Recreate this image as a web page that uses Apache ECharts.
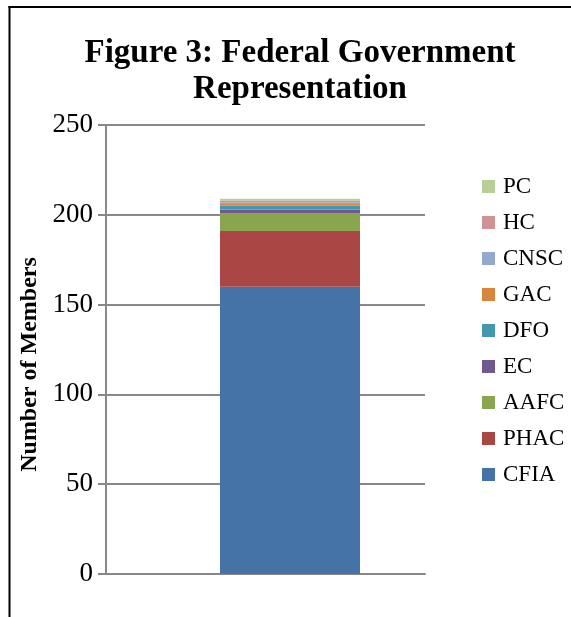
<!DOCTYPE html>
<html>
<head>
<meta charset="utf-8">
<script src="https://cdn.jsdelivr.net/npm/echarts@6/dist/echarts.min.js"></script>
<style>
  html, body { margin: 0; padding: 0; background: #fff; }
  #chart { width: 571px; height: 617px; }
</style>
</head>
<body>
<div id="chart"></div>
<script>
// agencies, bottom of the stack first
const agencies = ['CFIA', 'PHAC', 'AAFC', 'EC', 'DFO', 'GAC', 'CNSC', 'HC', 'PC']
const members = [160, 31, 10, 2, 2, 1, 1, 1, 1]
const colors = ['#4572a7', '#aa4643', '#89a54e', '#71588f', '#4198af', '#db843d', '#93a9cf', '#d19392', '#b9cd96']
const yTicks = [0, 50, 100, 150, 200, 250]

const chart = echarts.init(document.getElementById('chart'))
const serif = '"Liberation Serif", "DejaVu Serif", serif'

// bars sit in a second grid so they land right of the plot centre, as in the original
const series = agencies.map((name, i) => ({
  name,
  type: 'bar',
  stack: 'total',
  xAxisIndex: 1,
  yAxisIndex: 1,
  data: [members[i]],
  barWidth: 140,
  itemStyle: { color: colors[i] }
}))

chart.setOption({
  animation: false,
  title: {
    text: 'Figure 3: Federal Government\nRepresentation',
    left: 295,
    textAlign: 'center',
    top: 30,
    textStyle: { fontFamily: serif, fontWeight: 'bold', fontSize: 33, lineHeight: 36, color: '#000' }
  },
  legend: {
    orient: 'vertical',
    left: 477,
    top: 170,
    icon: 'rect',
    itemWidth: 13,
    itemHeight: 13,
    itemGap: 13,
    data: agencies.slice().reverse(),
    textStyle: { fontFamily: serif, fontSize: 23, color: '#000', padding: [0, 0, 0, 3] }
  },
  grid: [
    { left: 106, right: 146, top: 125, bottom: 43 },
    { left: 155, right: 146, top: 125, bottom: 43 }
  ],
  xAxis: [
    {
      type: 'category',
      gridIndex: 0,
      data: [''],
      axisLine: { lineStyle: { color: '#888', width: 2 } },
      axisTick: { show: false },
      axisLabel: { show: false }
    },
    { type: 'category', gridIndex: 1, data: [''], show: false }
  ],
  yAxis: [
    {
      type: 'value',
      gridIndex: 0,
      min: yTicks[0],
      max: yTicks[yTicks.length - 1],
      interval: 50,
      name: 'Number of Members',
      nameLocation: 'middle',
      nameGap: 64,
      nameTextStyle: { fontFamily: serif, fontWeight: 'bold', fontSize: 24, color: '#000', padding: [0, 30, 0, 0] },
      axisLine: { show: true, lineStyle: { color: '#888', width: 2 } },
      axisTick: { show: true, length: 8, lineStyle: { color: '#888', width: 2 } },
      axisLabel: { fontFamily: serif, fontSize: 27, color: '#000', margin: 13 },
      splitLine: { lineStyle: { color: '#888', width: 2 } }
    },
    { type: 'value', gridIndex: 1, min: yTicks[0], max: yTicks[yTicks.length - 1], show: false }
  ],
  series,
  graphic: [
    { type: 'line', shape: { x1: 8.5, y1: 7, x2: 571, y2: 7 }, style: { stroke: '#000', lineWidth: 2 } },
    { type: 'line', shape: { x1: 9.5, y1: 6, x2: 9.5, y2: 617 }, style: { stroke: '#000', lineWidth: 2 } }
  ]
})
</script>
</body>
</html>
